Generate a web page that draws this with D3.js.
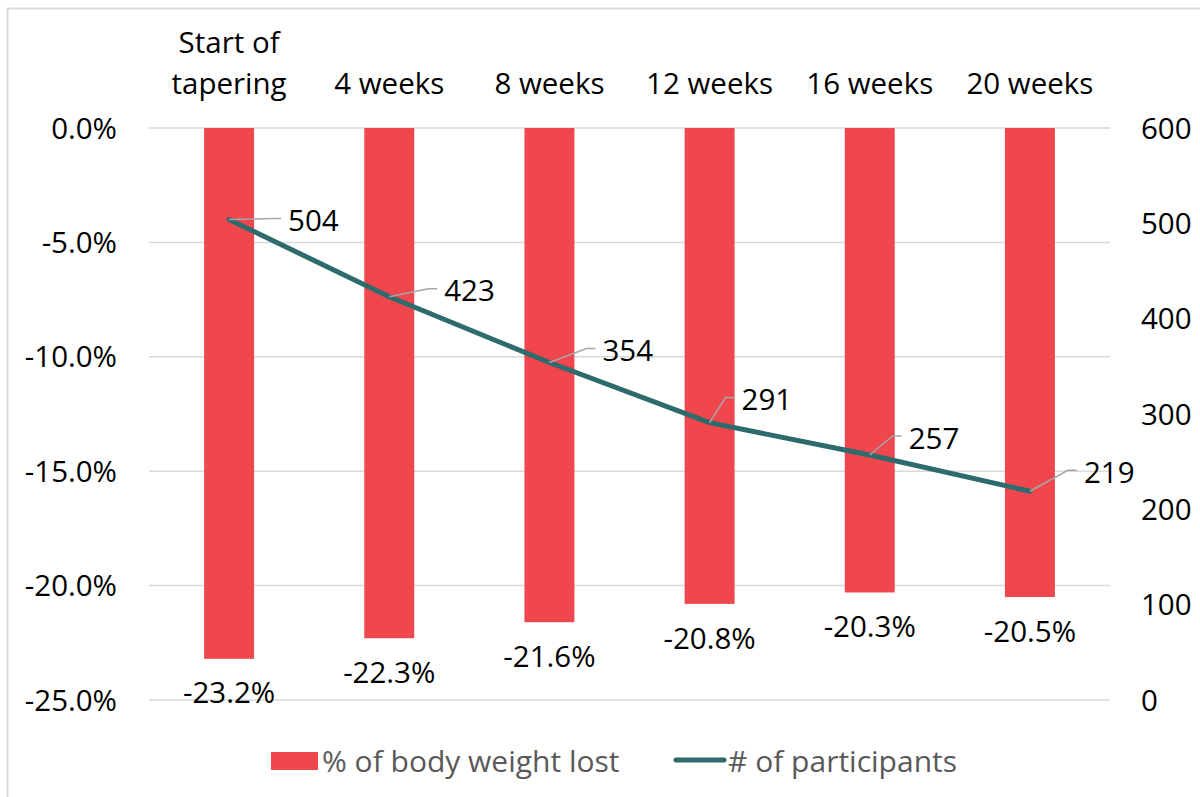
<!DOCTYPE html>
<html>
<head>
<meta charset="utf-8">
<script src="https://cdn.jsdelivr.net/npm/d3@7"></script>
<style>
  body { margin: 0; background: #fff; }
  svg text { font-family: "Open Sans", "Noto Sans", sans-serif; }
</style>
</head>
<body>
<div id="chart"></div>
<script>
// data
const categories = [["Start of", "tapering"], ["4 weeks"], ["8 weeks"], ["12 weeks"], ["16 weeks"], ["20 weeks"]];
const weightLost = [-23.2, -22.3, -21.6, -20.8, -20.3, -20.5];
const participants = [504, 423, 354, 291, 257, 219];
const leftTicks = [0, -5, -10, -15, -20, -25];
const rightTicks = [600, 500, 400, 300, 200, 100, 0];

// where each participant label sits, relative to its point
const labelOffsets = [[52, -1], [48, -8], [46, -14], [25, -25], [32, -19], [47, -21]];

const WIDTH = 1200, HEIGHT = 797;
const PLOT = { left: 149, right: 1110, top: 128, bottom: 700 };
const BAR_COLOR = "#F0474F";
const LINE_COLOR = "#2E6B6C";
const GRID = "#D9D9D9";
const FS = 29.5;

const svg = d3.select("#chart").append("svg")
    .attr("width", WIDTH)
    .attr("height", HEIGHT);

// frame (only left & top visible in the crop)
svg.append("path")
    .attr("d", `M7.5,${HEIGHT} V8.5 H${WIDTH}`)
    .attr("fill", "none")
    .attr("stroke", GRID)
    .attr("stroke-width", 2);

const x = d3.scaleBand()
    .domain(d3.range(categories.length))
    .range([PLOT.left, PLOT.right])
    .paddingInner(0.688)
    .paddingOuter(0.344);

const yLeft = d3.scaleLinear().domain([-25, 0]).range([PLOT.bottom, PLOT.top]);
const yRight = d3.scaleLinear().domain([0, 600]).range([PLOT.bottom, PLOT.top]);

// gridlines
svg.append("g")
    .selectAll("line")
    .data(leftTicks)
    .join("line")
    .attr("x1", PLOT.left).attr("x2", PLOT.right)
    .attr("y1", d => yLeft(d)).attr("y2", d => yLeft(d))
    .attr("stroke", GRID)
    .attr("stroke-width", 1.5);

// left axis labels
svg.append("g")
    .selectAll("text")
    .data(leftTicks)
    .join("text")
    .attr("x", 117)
    .attr("y", d => yLeft(d))
    .attr("dy", "0.36em")
    .attr("text-anchor", "end")
    .attr("font-size", FS)
    .attr("fill", "#000")
    .text(d => d.toFixed(1) + "%");

// right axis labels
svg.append("g")
    .selectAll("text")
    .data(rightTicks)
    .join("text")
    .attr("x", 1141)
    .attr("y", d => yRight(d))
    .attr("dy", "0.36em")
    .attr("text-anchor", "start")
    .attr("font-size", FS)
    .attr("fill", "#000")
    .text(d => d);

// category labels on top
const cats = svg.append("g");
categories.forEach((lines, i) => {
    lines.forEach((ln, j) => {
        cats.append("text")
            .attr("x", x(i) + x.bandwidth() / 2)
            .attr("y", 94 - (lines.length - 1 - j) * 41)
            .attr("text-anchor", "middle")
            .attr("font-size", FS)
            .attr("fill", "#000")
            .text(ln);
    });
});

// bars
svg.append("g")
    .selectAll("rect")
    .data(weightLost)
    .join("rect")
    .attr("x", (d, i) => x(i))
    .attr("y", yLeft(0))
    .attr("width", x.bandwidth())
    .attr("height", d => yLeft(d) - yLeft(0))
    .attr("fill", BAR_COLOR);

// bar labels
svg.append("g")
    .selectAll("text")
    .data(weightLost)
    .join("text")
    .attr("x", (d, i) => x(i) + x.bandwidth() / 2)
    .attr("y", d => yLeft(d) + 34)
    .attr("dy", "0.36em")
    .attr("text-anchor", "middle")
    .attr("font-size", FS)
    .attr("fill", "#000")
    .text(d => d.toFixed(1) + "%");

// participants line
const line = d3.line()
    .x((d, i) => x(i) + x.bandwidth() / 2)
    .y(d => yRight(d));

svg.append("path")
    .attr("d", line(participants))
    .attr("fill", "none")
    .attr("stroke", LINE_COLOR)
    .attr("stroke-width", 5)
    .attr("stroke-linejoin", "round")
    .attr("stroke-linecap", "round");

// leader lines + labels
const lbl = svg.append("g");
participants.forEach((v, i) => {
    const px = x(i) + x.bandwidth() / 2;
    const py = yRight(v);
    const [dx, dy] = labelOffsets[i];
    const ex = px + dx, ey = py + dy;
    lbl.append("polyline")
        .attr("points", `${px},${py} ${ex - 9},${ey} ${ex},${ey}`)
        .attr("fill", "none")
        .attr("stroke", "#A6A6A6")
        .attr("stroke-width", 1.5);
    lbl.append("text")
        .attr("x", ex + 7)
        .attr("y", ey + 2)
        .attr("dy", "0.36em")
        .attr("font-size", FS)
        .attr("fill", "#000")
        .text(v);
});

// legend
const legend = svg.append("g");
legend.append("rect")
    .attr("x", 271).attr("y", 752)
    .attr("width", 47).attr("height", 18)
    .attr("fill", BAR_COLOR);
legend.append("text")
    .attr("x", 322).attr("y", 761)
    .attr("dy", "0.36em")
    .attr("font-size", 30)
    .attr("fill", "#595959")
    .text("% of body weight lost");
legend.append("line")
    .attr("x1", 676).attr("x2", 724)
    .attr("y1", 760).attr("y2", 760)
    .attr("stroke", LINE_COLOR)
    .attr("stroke-width", 5)
    .attr("stroke-linecap", "round");
legend.append("text")
    .attr("x", 728).attr("y", 761)
    .attr("dy", "0.36em")
    .attr("font-size", 30)
    .attr("fill", "#595959")
    .text("# of participants");
</script>
</body>
</html>
